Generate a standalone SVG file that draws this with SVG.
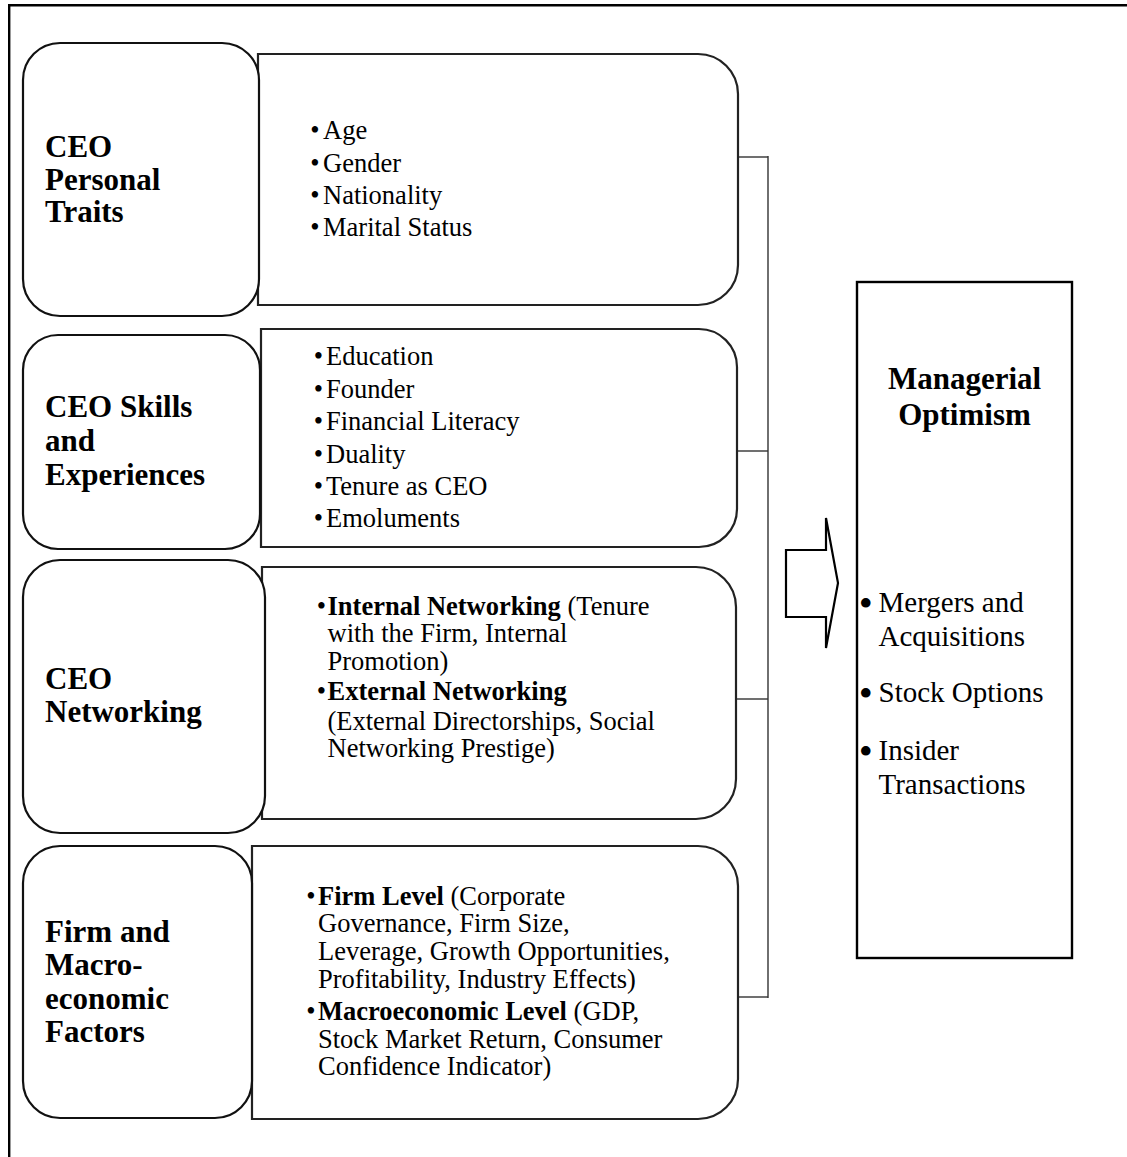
<svg xmlns="http://www.w3.org/2000/svg" width="1127" height="1157" viewBox="0 0 1127 1157">
<style>
.t{font-family:'Liberation Serif','Times New Roman',serif;fill:#000}
.title{font-size:31px;font-weight:bold}
.item{font-size:26.5px}
.ritem{font-size:29px}
.b{font-weight:bold}
.lbox{fill:#fff;stroke:#111;stroke-width:2.2}
.rbox{fill:#fff;stroke:#222;stroke-width:2.2}
.conn{fill:none;stroke:#333;stroke-width:1.4}
</style>
<rect width="1127" height="1157" fill="#fff"/>
<g id="frame">
<line x1="8" y1="5.3" x2="1127" y2="5.3" stroke="#000" stroke-width="2.4"/>
<line x1="9.2" y1="4" x2="9.2" y2="1157" stroke="#000" stroke-width="2.4"/>
</g>
<g id="connectors">
<line class="conn" x1="768" y1="156" x2="768" y2="998"/>
<line class="conn" x1="738" y1="157" x2="768" y2="157"/>
<line class="conn" x1="737" y1="451" x2="768" y2="451"/>
<line class="conn" x1="736" y1="699" x2="768" y2="699"/>
<line class="conn" x1="738" y1="997" x2="768" y2="997"/>
<polygon id="arrow" points="786,550 826,550 826,518 838,583 826,648 826,617 786,617" fill="#fff" stroke="#000" stroke-width="2.2" stroke-linejoin="miter"/>
</g>
<g id="detail-personal">
<path class="rbox" d="M258 54 H698 A40 40 0 0 1 738 94 V265 A40 40 0 0 1 698 305 H258 Z"/>
<text class="t item" x="315" y="139" text-anchor="middle">•</text><text class="t item" x="323" y="139">Age</text>
<text class="t item" x="315" y="171.5" text-anchor="middle">•</text><text class="t item" x="323" y="171.5">Gender</text>
<text class="t item" x="315" y="203.5" text-anchor="middle">•</text><text class="t item" x="323" y="203.5">Nationality</text>
<text class="t item" x="315" y="236" text-anchor="middle">•</text><text class="t item" x="323" y="236">Marital Status</text>
</g>
<g id="detail-skills">
<path class="rbox" d="M261 329 H699 A38 38 0 0 1 737 367 V509 A38 38 0 0 1 699 547 H261 Z"/>
<text class="t item" x="318.5" y="365" text-anchor="middle">•</text><text class="t item" x="326" y="365">Education</text>
<text class="t item" x="318.5" y="397.5" text-anchor="middle">•</text><text class="t item" x="326" y="397.5">Founder</text>
<text class="t item" x="318.5" y="430" text-anchor="middle">•</text><text class="t item" x="326" y="430">Financial Literacy</text>
<text class="t item" x="318.5" y="462.5" text-anchor="middle">•</text><text class="t item" x="326" y="462.5">Duality</text>
<text class="t item" x="318.5" y="495" text-anchor="middle">•</text><text class="t item" x="326" y="495">Tenure as CEO</text>
<text class="t item" x="318.5" y="527" text-anchor="middle">•</text><text class="t item" x="326" y="527">Emoluments</text>
</g>
<g id="detail-networking">
<path class="rbox" d="M262 567 H696 A40 40 0 0 1 736 607 V779 A40 40 0 0 1 696 819 H262 Z"/>
<text class="t item" x="321.5" y="615" text-anchor="middle">•</text><text class="t item" x="327.5" y="615"><tspan class="b">Internal Networking</tspan> (Tenure</text>
<text class="t item" x="327.5" y="642">with the Firm, Internal</text>
<text class="t item" x="327.5" y="670">Promotion)</text>
<text class="t item" x="321.5" y="699.5" text-anchor="middle">•</text><text class="t item b" x="327.5" y="699.5">External Networking</text>
<text class="t item" x="327.5" y="730">(External Directorships, Social</text>
<text class="t item" x="327.5" y="757">Networking Prestige)</text>
</g>
<g id="detail-firm">
<path class="rbox" d="M252 846 H698 A40 40 0 0 1 738 886 V1079 A40 40 0 0 1 698 1119 H252 Z"/>
<text class="t item" x="311" y="905" text-anchor="middle">•</text><text class="t item" x="318" y="905"><tspan class="b">Firm Level</tspan> (Corporate</text>
<text class="t item" x="318" y="932">Governance, Firm Size,</text>
<text class="t item" x="318" y="960">Leverage, Growth Opportunities,</text>
<text class="t item" x="318" y="988">Profitability, Industry Effects)</text>
<text class="t item" x="311" y="1020" text-anchor="middle">•</text><text class="t item" x="318" y="1020"><tspan class="b">Macroeconomic Level</tspan> (GDP,</text>
<text class="t item" x="318" y="1048">Stock Market Return, Consumer</text>
<text class="t item" x="318" y="1075">Confidence Indicator)</text>
</g>
<g id="node-personal">
<rect class="lbox" x="23" y="43" width="236" height="273" rx="37"/>
<text class="t title" x="45" y="156.5">CEO</text>
<text class="t title" x="45" y="190">Personal</text>
<text class="t title" x="45" y="222">Traits</text>
</g>
<g id="node-skills">
<rect class="lbox" x="23" y="335" width="237" height="214" rx="35"/>
<text class="t title" x="45" y="417">CEO Skills</text>
<text class="t title" x="45" y="450.5">and</text>
<text class="t title" x="45" y="485">Experiences</text>
</g>
<g id="node-networking">
<rect class="lbox" x="23" y="560" width="242" height="273" rx="37"/>
<text class="t title" x="45" y="688.5">CEO</text>
<text class="t title" x="45" y="722">Networking</text>
</g>
<g id="node-firm">
<rect class="lbox" x="23" y="846" width="229" height="272" rx="37"/>
<text class="t title" x="45" y="942">Firm and</text>
<text class="t title" x="45" y="975">Macro-</text>
<text class="t title" x="45" y="1008.5">economic</text>
<text class="t title" x="45" y="1042">Factors</text>
</g>
<g id="node-optimism">
<rect class="rbox" x="857" y="282" width="215" height="676" style="stroke:#000;stroke-width:2.4"/>
<text class="t title" x="964.5" y="388.5" text-anchor="middle">Managerial</text>
<text class="t title" x="964.5" y="425" text-anchor="middle">Optimism</text>
<text class="t" x="865.7" y="617" font-size="40" text-anchor="middle">•</text>
<text class="t ritem" x="878.5" y="612">Mergers and</text>
<text class="t ritem" x="878.5" y="646">Acquisitions</text>
<text class="t" x="865.7" y="707" font-size="40" text-anchor="middle">•</text>
<text class="t ritem" x="878.5" y="702">Stock Options</text>
<text class="t" x="865.7" y="765" font-size="40" text-anchor="middle">•</text>
<text class="t ritem" x="878.5" y="760">Insider</text>
<text class="t ritem" x="878.5" y="793.5">Transactions</text>
</g>
</svg>
